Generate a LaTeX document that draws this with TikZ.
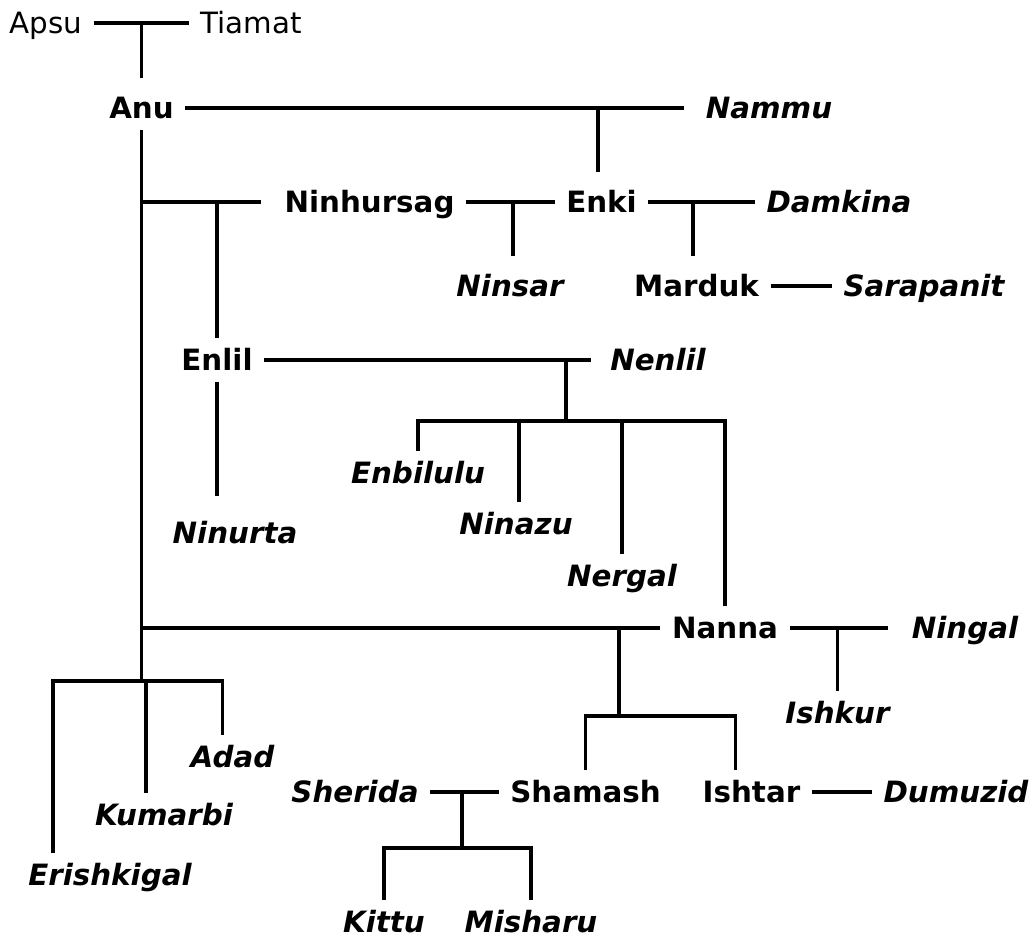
\documentclass[tikz,border=0pt]{standalone}
\usepackage{fontspec}
\setmainfont{DejaVu Sans}[BoldFont={DejaVu Sans Bold}, ItalicFont={DejaVu Sans Oblique}, BoldItalicFont={DejaVu Sans Bold Oblique}]
\usetikzlibrary{calc}

\begin{document}
\begin{tikzpicture}[
		x=0.75pt, y=-0.75pt, line width=2.4pt,
		god/.style={font=\fontsize{22}{26}\selectfont\bfseries, inner sep=7.5pt, text height=16pt, text depth=0pt},
		consort/.style={god, font=\fontsize{22}{26}\selectfont\bfseries\itshape},
		primal/.style={god, font=\fontsize{22}{26}\selectfont\mdseries},
	]
		\useasboundingbox (0,0) rectangle (1036,940);

		\node[primal] (apsu) at (46,23) {Apsu};
		\node[primal] (tiamat) at (251,23) {Tiamat};
		\node[god] (anu) at (141.5,108) {Anu};
		\node[consort] (nammu) at (769,108) {Nammu};
		\node[god] (ninhursag) at (369.5,202) {Ninhursag};
		\node[god] (enki) at (601.5,202) {Enki};
		\node[consort] (damkina) at (839,202) {Damkina};
		\node[consort] (ninsar) at (510,286) {Ninsar};
		\node[god] (marduk) at (696.5,286) {Marduk};
		\node[consort] (sarapanit) at (924,286) {Sarapanit};
		\node[god] (enlil) at (217,360) {Enlil};
		\node[consort] (nenlil) at (658,360) {Nenlil};
		\node[consort] (ninurta) at (235,533) {Ninurta};
		\node[consort] (enbilulu) at (418,473) {Enbilulu};
		\node[consort] (ninazu) at (516,524) {Ninazu};
		\node[consort] (nergal) at (622,576) {Nergal};
		\node[god] (nanna) at (725,628) {Nanna};
		\node[consort] (ningal) at (965,628) {Ningal};
		\node[consort] (ishkur) at (837.5,713) {Ishkur};
		\node[god] (shamash) at (585.5,792) {Shamash};
		\node[god] (ishtar) at (751.5,792) {Ishtar};
		\node[consort] (dumuzid) at (956,792) {Dumuzid};
		\node[consort] (sherida) at (355,792) {Sherida};
		\node[consort] (kittu) at (384,922) {Kittu};
		\node[consort] (misharu) at (531,922) {Misharu};
		\node[consort] (adad) at (232.5,757) {Adad};
		\node[consort] (kumarbi) at (164,815) {Kumarbi};
		\node[consort] (erishkigal) at (110,875) {Erishkigal};

		% junctions
		\coordinate (j-enki) at (598,108);
		\coordinate (j-ninsar) at (513,202);
		\coordinate (j-marduk) at (693,202);
		\coordinate (j-enlil) at (566,360);
		\coordinate (b-enlil) at (566,421);
		\coordinate (j-nanna) at (619,628);
		\coordinate (b-nanna) at (619,716);
		\coordinate (j-sherida) at (462,792);
		\coordinate (b-sherida) at (462,848);
		\coordinate (b-anu) at (141.5,681);

		\draw (apsu) -- (tiamat);
		\draw[shorten >=6pt] (apsu -| anu) -- (anu.north);

		\draw[shorten >=7.5pt] (anu) -- (nammu);
		\draw[shorten >=6pt] (j-enki) -- (j-enki |- enki.north);
		\draw (anu.south) -- (b-anu);

		\draw[shorten >=9pt] (anu |- ninhursag) -- (ninhursag.west);
		\draw (enlil |- ninhursag) -- (enlil.north);
		\draw (ninhursag) -- (enki);
		\draw[shorten >=6pt] (j-ninsar) -- (j-ninsar |- ninsar.north);
		\draw (enki) -- (damkina);
		\draw[shorten >=6pt] (j-marduk) -- (j-marduk |- marduk.north);
		\draw (marduk) -- (sarapanit);

		\draw[shorten >=6pt] (enlil) -- (nenlil);
		\draw[shorten >=11pt] (enlil.south) -- (enlil.south |- ninurta.north);
		\draw (j-enlil) -- (b-enlil);
		\draw (enbilulu.north) |- (b-enlil) -| (nanna.north);
		\draw ($(ninazu.north)+(3,0)$) |- (b-enlil);
		\draw (nergal.north) |- (b-enlil);

		\draw (anu |- nanna) -- (nanna.west);
		\draw[shorten >=9pt] (nanna) -- (ningal);
		\draw (ishkur |- nanna) -- (ishkur.north);
		\draw (j-nanna) -- (b-nanna);
		\draw (shamash.north) |- (b-nanna) -| ($(ishtar.north)+(-16,0)$);
		\draw (ishtar) -- (dumuzid);

		\draw (sherida) -- (shamash);
		\draw (j-sherida) -- (b-sherida);
		\draw (kittu.north) |- (b-sherida) -| (misharu.north);

		\draw ($(erishkigal.north)+(-57,0)$) |- (b-anu) -| ($(adad.north)+(-10,0)$);
		\draw ($(kumarbi.north)+(-18,0)$) |- (b-anu);
	\end{tikzpicture}
\end{document}
